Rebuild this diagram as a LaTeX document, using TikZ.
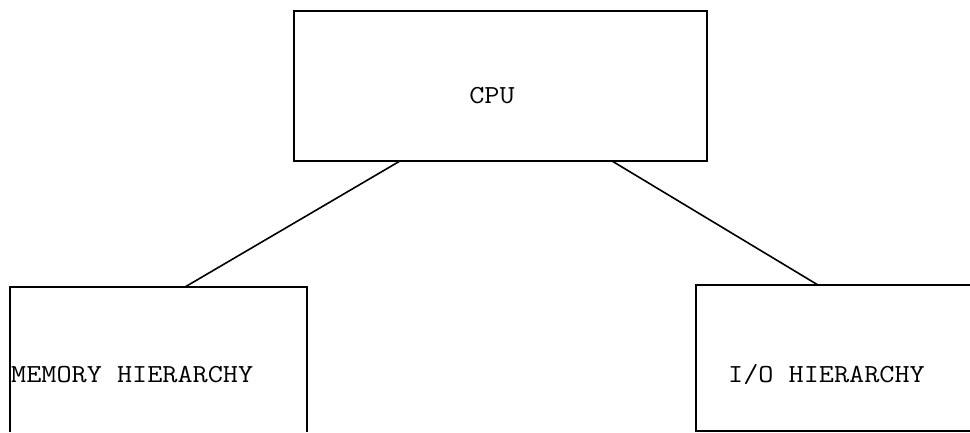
\documentclass[tikz,border=0pt]{standalone}
\usepackage{fontspec}
\newfontfamily\typewriter{Latin Modern Mono}[FakeStretch=1.13]
\begin{document}
\begin{tikzpicture}[x=1pt,y=-1pt,
  boxline/.style={line width=1.6pt,line cap=butt},
  lbl/.style={font=\typewriter\fontsize{26}{26}\selectfont,inner sep=0pt,anchor=center}]
\useasboundingbox (0,0) rectangle (970,432);
% CPU box
\node[draw,boxline,minimum width=413pt,minimum height=150pt,inner sep=0pt] (cpu) at (500.5,86) {};
\node[lbl] (cputxt) at (492,96) {CPU};
% memory box (open bottom)
\coordinate (mbl) at (10,432);
\coordinate (mtl) at (10,287);
\coordinate (mtr) at (307,287);
\coordinate (mbr) at (307,432);
\draw[boxline] (mbl) -- (mtl) -- (mtr) -- (mbr);
\node[lbl,anchor=west] (memtxt) at (11,375) {MEMORY HIERARCHY};
% I/O box (open right side)
\coordinate (itr) at (970,285);
\coordinate (itl) at (696,285);
\coordinate (ibl) at (696,431);
\coordinate (ibr) at (970,431);
\draw[boxline] (itr) -- (itl) -- (ibl) -- (ibr);
\node[lbl,anchor=west] (iotxt) at (728,375) {I/O HIERARCHY};
% connectors
\coordinate (c1) at (400,161);
\coordinate (m1) at (185,287);
\coordinate (c2) at (612,161);
\coordinate (i1) at (818,285);
\draw[line width=1.6pt] (c1) -- (m1);
\draw[line width=1.6pt] (c2) -- (i1);
\end{tikzpicture}
\end{document}
